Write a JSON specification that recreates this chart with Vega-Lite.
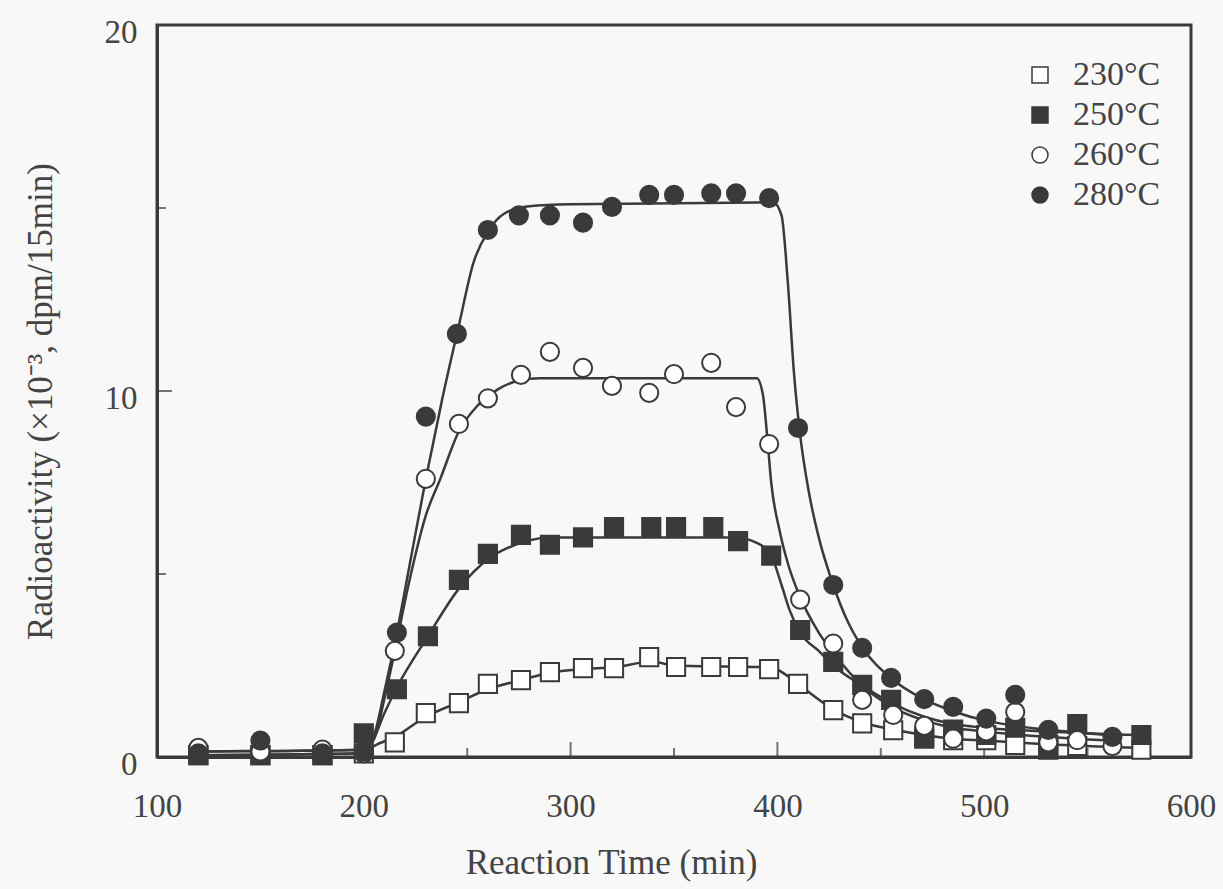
{
  "$schema": "https://vega.github.io/schema/vega-lite/v6.json",
  "width": 1034,
  "height": 732,
  "autosize": {"type": "none"},
  "padding": {"left": 157, "top": 25, "right": 32, "bottom": 132},
  "background": "#f8f8f8",
  "config": {
    "font": "Liberation Serif",
    "view": {"stroke": "#3a3a3a", "strokeWidth": 3},
    "axis": {
      "domainColor": "#3a3a3a", "domainWidth": 3,
      "ticks": false,
      "grid": false,
      "labelFont": "Liberation Serif", "labelFontSize": 33, "labelColor": "#444",
      "titleFont": "Liberation Serif", "titleFontSize": 35, "titleColor": "#444", "titleFontWeight": "normal"
    },
    "legend": {"labelFont": "Liberation Serif", "labelFontSize": 34, "labelColor": "#444"}
  },
  "datasets": {
    "xticks": [
      {"pos": 150, "kind": "minor"}, {"pos": 200, "kind": "major"}, {"pos": 250, "kind": "minor"},
      {"pos": 300, "kind": "major"}, {"pos": 350, "kind": "minor"}, {"pos": 400, "kind": "major"},
      {"pos": 450, "kind": "minor"}, {"pos": 500, "kind": "major"}, {"pos": 550, "kind": "minor"}
    ],
    "yticks": [
      {"pos": 5, "kind": "minor"}, {"pos": 10, "kind": "major"}, {"pos": 15, "kind": "minor"}
    ],
    "points": [
      {"series": "230°C", "time": 120, "value": 0.05},
      {"series": "230°C", "time": 150, "value": 0.05},
      {"series": "230°C", "time": 180, "value": 0.05},
      {"series": "230°C", "time": 200, "value": 0.1},
      {"series": "230°C", "time": 215, "value": 0.4},
      {"series": "230°C", "time": 230, "value": 1.2},
      {"series": "230°C", "time": 246, "value": 1.47},
      {"series": "230°C", "time": 260, "value": 2.0},
      {"series": "230°C", "time": 276, "value": 2.1},
      {"series": "230°C", "time": 290, "value": 2.32},
      {"series": "230°C", "time": 306, "value": 2.43},
      {"series": "230°C", "time": 321, "value": 2.43},
      {"series": "230°C", "time": 338, "value": 2.73},
      {"series": "230°C", "time": 351, "value": 2.46},
      {"series": "230°C", "time": 368, "value": 2.46},
      {"series": "230°C", "time": 381, "value": 2.46},
      {"series": "230°C", "time": 396, "value": 2.4},
      {"series": "230°C", "time": 410, "value": 2.0},
      {"series": "230°C", "time": 427, "value": 1.28},
      {"series": "230°C", "time": 441, "value": 0.92},
      {"series": "230°C", "time": 456, "value": 0.73},
      {"series": "230°C", "time": 471, "value": 0.5},
      {"series": "230°C", "time": 485, "value": 0.46},
      {"series": "230°C", "time": 501, "value": 0.46},
      {"series": "230°C", "time": 515, "value": 0.33},
      {"series": "230°C", "time": 531, "value": 0.33},
      {"series": "230°C", "time": 545, "value": 0.3},
      {"series": "230°C", "time": 576, "value": 0.2},

      {"series": "250°C", "time": 120, "value": 0.05},
      {"series": "250°C", "time": 150, "value": 0.05},
      {"series": "250°C", "time": 180, "value": 0.05},
      {"series": "250°C", "time": 200, "value": 0.65},
      {"series": "250°C", "time": 216, "value": 1.85},
      {"series": "250°C", "time": 231, "value": 3.3},
      {"series": "250°C", "time": 246, "value": 4.84},
      {"series": "250°C", "time": 260, "value": 5.55},
      {"series": "250°C", "time": 276, "value": 6.07},
      {"series": "250°C", "time": 290, "value": 5.8},
      {"series": "250°C", "time": 306, "value": 6.0},
      {"series": "250°C", "time": 321, "value": 6.28},
      {"series": "250°C", "time": 339, "value": 6.28},
      {"series": "250°C", "time": 351, "value": 6.28},
      {"series": "250°C", "time": 369, "value": 6.28},
      {"series": "250°C", "time": 381, "value": 5.9},
      {"series": "250°C", "time": 397, "value": 5.5},
      {"series": "250°C", "time": 411, "value": 3.47},
      {"series": "250°C", "time": 427, "value": 2.6},
      {"series": "250°C", "time": 441, "value": 1.97},
      {"series": "250°C", "time": 455, "value": 1.56},
      {"series": "250°C", "time": 471, "value": 0.55},
      {"series": "250°C", "time": 485, "value": 0.75},
      {"series": "250°C", "time": 501, "value": 0.6},
      {"series": "250°C", "time": 515, "value": 0.8},
      {"series": "250°C", "time": 531, "value": 0.2},
      {"series": "250°C", "time": 545, "value": 0.9},
      {"series": "250°C", "time": 576, "value": 0.6},

      {"series": "260°C", "time": 120, "value": 0.25},
      {"series": "260°C", "time": 150, "value": 0.15},
      {"series": "260°C", "time": 180, "value": 0.2},
      {"series": "260°C", "time": 200, "value": 0.1},
      {"series": "260°C", "time": 215, "value": 2.9},
      {"series": "260°C", "time": 230, "value": 7.6},
      {"series": "260°C", "time": 246, "value": 9.1},
      {"series": "260°C", "time": 260, "value": 9.8},
      {"series": "260°C", "time": 276, "value": 10.44},
      {"series": "260°C", "time": 290, "value": 11.07},
      {"series": "260°C", "time": 306, "value": 10.63},
      {"series": "260°C", "time": 320, "value": 10.14},
      {"series": "260°C", "time": 338, "value": 9.95},
      {"series": "260°C", "time": 350, "value": 10.46},
      {"series": "260°C", "time": 368, "value": 10.77},
      {"series": "260°C", "time": 380, "value": 9.56},
      {"series": "260°C", "time": 396, "value": 8.55},
      {"series": "260°C", "time": 411, "value": 4.3},
      {"series": "260°C", "time": 427, "value": 3.1},
      {"series": "260°C", "time": 441, "value": 1.56},
      {"series": "260°C", "time": 456, "value": 1.15},
      {"series": "260°C", "time": 471, "value": 0.85},
      {"series": "260°C", "time": 485, "value": 0.5},
      {"series": "260°C", "time": 501, "value": 0.7},
      {"series": "260°C", "time": 515, "value": 1.23},
      {"series": "260°C", "time": 531, "value": 0.4},
      {"series": "260°C", "time": 545, "value": 0.46},
      {"series": "260°C", "time": 562, "value": 0.3},

      {"series": "280°C", "time": 120, "value": 0.1},
      {"series": "280°C", "time": 150, "value": 0.45},
      {"series": "280°C", "time": 180, "value": 0.1},
      {"series": "280°C", "time": 200, "value": 0.15},
      {"series": "280°C", "time": 216, "value": 3.4},
      {"series": "280°C", "time": 230, "value": 9.3},
      {"series": "280°C", "time": 245, "value": 11.56},
      {"series": "280°C", "time": 260, "value": 14.4},
      {"series": "280°C", "time": 275, "value": 14.8},
      {"series": "280°C", "time": 290, "value": 14.8},
      {"series": "280°C", "time": 306, "value": 14.6},
      {"series": "280°C", "time": 320, "value": 15.03},
      {"series": "280°C", "time": 338, "value": 15.36},
      {"series": "280°C", "time": 350, "value": 15.36},
      {"series": "280°C", "time": 368, "value": 15.4},
      {"series": "280°C", "time": 380, "value": 15.4},
      {"series": "280°C", "time": 396, "value": 15.27},
      {"series": "280°C", "time": 410, "value": 8.99},
      {"series": "280°C", "time": 427, "value": 4.7},
      {"series": "280°C", "time": 441, "value": 2.98},
      {"series": "280°C", "time": 455, "value": 2.16},
      {"series": "280°C", "time": 471, "value": 1.58},
      {"series": "280°C", "time": 485, "value": 1.37},
      {"series": "280°C", "time": 501, "value": 1.05},
      {"series": "280°C", "time": 515, "value": 1.7},
      {"series": "280°C", "time": 531, "value": 0.74},
      {"series": "280°C", "time": 562, "value": 0.55}
    ],
    "curves": [
      {"series": "230°C", "time": 120, "value": 0.05},
      {"series": "230°C", "time": 200, "value": 0.1},
      {"series": "230°C", "time": 205, "value": 0.3},
      {"series": "230°C", "time": 215, "value": 0.55},
      {"series": "230°C", "time": 230, "value": 1.1},
      {"series": "230°C", "time": 246, "value": 1.5},
      {"series": "230°C", "time": 260, "value": 1.85},
      {"series": "230°C", "time": 276, "value": 2.1},
      {"series": "230°C", "time": 290, "value": 2.3},
      {"series": "230°C", "time": 306, "value": 2.4},
      {"series": "230°C", "time": 321, "value": 2.45},
      {"series": "230°C", "time": 339, "value": 2.6},
      {"series": "230°C", "time": 351, "value": 2.5},
      {"series": "230°C", "time": 397, "value": 2.45},
      {"series": "230°C", "time": 404, "value": 2.25},
      {"series": "230°C", "time": 411, "value": 1.95},
      {"series": "230°C", "time": 427, "value": 1.3},
      {"series": "230°C", "time": 441, "value": 0.95},
      {"series": "230°C", "time": 456, "value": 0.75},
      {"series": "230°C", "time": 471, "value": 0.6},
      {"series": "230°C", "time": 485, "value": 0.5},
      {"series": "230°C", "time": 500, "value": 0.45},
      {"series": "230°C", "time": 530, "value": 0.35},
      {"series": "230°C", "time": 576, "value": 0.25},

      {"series": "250°C", "time": 120, "value": 0.05},
      {"series": "250°C", "time": 200, "value": 0.1},
      {"series": "250°C", "time": 204, "value": 0.4},
      {"series": "250°C", "time": 210, "value": 1.2},
      {"series": "250°C", "time": 216, "value": 1.9},
      {"series": "250°C", "time": 231, "value": 3.3},
      {"series": "250°C", "time": 246, "value": 4.6},
      {"series": "250°C", "time": 260, "value": 5.4},
      {"series": "250°C", "time": 276, "value": 5.85},
      {"series": "250°C", "time": 290, "value": 6.0},
      {"series": "250°C", "time": 380, "value": 6.0},
      {"series": "250°C", "time": 390, "value": 5.85},
      {"series": "250°C", "time": 397, "value": 5.5},
      {"series": "250°C", "time": 402, "value": 4.7},
      {"series": "250°C", "time": 406, "value": 4.0},
      {"series": "250°C", "time": 411, "value": 3.4},
      {"series": "250°C", "time": 420, "value": 2.9},
      {"series": "250°C", "time": 427, "value": 2.5},
      {"series": "250°C", "time": 441, "value": 1.95},
      {"series": "250°C", "time": 456, "value": 1.45},
      {"series": "250°C", "time": 471, "value": 1.1},
      {"series": "250°C", "time": 485, "value": 0.9},
      {"series": "250°C", "time": 500, "value": 0.8},
      {"series": "250°C", "time": 530, "value": 0.7},
      {"series": "250°C", "time": 576, "value": 0.6},

      {"series": "260°C", "time": 120, "value": 0.15},
      {"series": "260°C", "time": 200, "value": 0.2},
      {"series": "260°C", "time": 205, "value": 0.5},
      {"series": "260°C", "time": 210, "value": 1.6},
      {"series": "260°C", "time": 215, "value": 2.9},
      {"series": "260°C", "time": 222, "value": 4.8},
      {"series": "260°C", "time": 230, "value": 6.6},
      {"series": "260°C", "time": 237, "value": 7.6},
      {"series": "260°C", "time": 246, "value": 8.9},
      {"series": "260°C", "time": 255, "value": 9.6},
      {"series": "260°C", "time": 265, "value": 10.05},
      {"series": "260°C", "time": 276, "value": 10.3},
      {"series": "260°C", "time": 285, "value": 10.35},
      {"series": "260°C", "time": 390, "value": 10.35},
      {"series": "260°C", "time": 393, "value": 9.9},
      {"series": "260°C", "time": 395, "value": 8.8},
      {"series": "260°C", "time": 397, "value": 7.5},
      {"series": "260°C", "time": 401, "value": 6.2},
      {"series": "260°C", "time": 405, "value": 5.3},
      {"series": "260°C", "time": 410, "value": 4.5},
      {"series": "260°C", "time": 420, "value": 3.4},
      {"series": "260°C", "time": 427, "value": 2.85},
      {"series": "260°C", "time": 441, "value": 1.95},
      {"series": "260°C", "time": 456, "value": 1.35},
      {"series": "260°C", "time": 471, "value": 1.0},
      {"series": "260°C", "time": 485, "value": 0.8},
      {"series": "260°C", "time": 500, "value": 0.7},
      {"series": "260°C", "time": 530, "value": 0.55},
      {"series": "260°C", "time": 560, "value": 0.45},

      {"series": "280°C", "time": 120, "value": 0.15},
      {"series": "280°C", "time": 200, "value": 0.2},
      {"series": "280°C", "time": 205, "value": 0.6},
      {"series": "280°C", "time": 210, "value": 1.8},
      {"series": "280°C", "time": 216, "value": 3.4},
      {"series": "280°C", "time": 222, "value": 5.2},
      {"series": "280°C", "time": 230, "value": 7.6},
      {"series": "280°C", "time": 238, "value": 9.8},
      {"series": "280°C", "time": 246, "value": 11.8},
      {"series": "280°C", "time": 253, "value": 13.5},
      {"series": "280°C", "time": 260, "value": 14.35},
      {"series": "280°C", "time": 268, "value": 14.85},
      {"series": "280°C", "time": 280, "value": 15.05},
      {"series": "280°C", "time": 300, "value": 15.1},
      {"series": "280°C", "time": 398, "value": 15.15},
      {"series": "280°C", "time": 402, "value": 14.8},
      {"series": "280°C", "time": 405, "value": 13.0},
      {"series": "280°C", "time": 408, "value": 10.5},
      {"series": "280°C", "time": 411, "value": 8.8},
      {"series": "280°C", "time": 415, "value": 7.3},
      {"series": "280°C", "time": 420, "value": 6.0},
      {"series": "280°C", "time": 427, "value": 4.7},
      {"series": "280°C", "time": 434, "value": 3.7},
      {"series": "280°C", "time": 441, "value": 3.0},
      {"series": "280°C", "time": 455, "value": 2.15},
      {"series": "280°C", "time": 470, "value": 1.6},
      {"series": "280°C", "time": 485, "value": 1.25},
      {"series": "280°C", "time": 500, "value": 1.0},
      {"series": "280°C", "time": 515, "value": 0.85},
      {"series": "280°C", "time": 530, "value": 0.75},
      {"series": "280°C", "time": 560, "value": 0.6}
    ]
  },
  "layer": [
    {
      "data": {"name": "curves"},
      "mark": {"type": "line", "interpolate": "monotone", "color": "#3a3a3a", "strokeWidth": 2.5},
      "encoding": {
        "x": {"field": "time", "type": "quantitative",
          "scale": {"domain": [100, 600], "nice": false, "zero": false},
          "axis": {"values": [100, 200, 300, 400, 500, 600],
            "labelPadding": 33, "labelFlush": false,
            "title": "Reaction Time (min)", "titleX": 454, "titleY": 116, "titleBaseline": "alphabetic"}},
        "y": {"field": "value", "type": "quantitative",
          "scale": {"domain": [0, 20], "nice": false},
          "axis": {"values": [0, 10, 20],
            "labelPadding": 20, "labelOffset": 7, "labelFlush": false,
            "title": "Radioactivity (×10⁻³, dpm/15min)", "titleX": -117, "titleY": 376, "titleBaseline": "middle", "titleAngle": -90}},
        "detail": {"field": "series"}
      }
    },
    {
      "data": {"name": "xticks"},
      "mark": {"type": "tick", "orient": "vertical", "clip": true, "color": "#3a3a3a", "thickness": 2},
      "encoding": {
        "x": {"field": "pos", "type": "quantitative"},
        "y": {"datum": 0, "type": "quantitative"},
        "size": {"field": "kind", "type": "nominal", "scale": {"domain": ["major", "minor"], "range": [30, 18]}, "legend": null}
      }
    },
    {
      "data": {"name": "yticks"},
      "mark": {"type": "tick", "orient": "horizontal", "clip": true, "color": "#3a3a3a", "thickness": 2},
      "encoding": {
        "y": {"field": "pos", "type": "quantitative"},
        "x": {"datum": 100, "type": "quantitative"},
        "size": {"field": "kind", "type": "nominal", "scale": {"domain": ["major", "minor"], "range": [30, 18]}, "legend": null}
      }
    },
    {
      "data": {"name": "points"},
      "mark": {"type": "point", "filled": false, "stroke": "#3a3a3a", "strokeWidth": 2, "opacity": 1, "size": 330},
      "encoding": {
        "x": {"field": "time", "type": "quantitative"},
        "y": {"field": "value", "type": "quantitative"},
        "shape": {"field": "series", "type": "nominal",
          "scale": {"domain": ["230°C", "250°C", "260°C", "280°C"], "range": ["square", "square", "circle", "circle"]},
          "legend": {"title": null, "orient": "none", "legendX": 866, "legendY": 33, "padding": 0,
            "symbolSize": 256, "labelOffset": 16, "rowPadding": 6,
            "encode": {"symbols": {"update": {"stroke": {"value": "#3a3a3a"}, "strokeWidth": {"value": 2}}}}}},
        "fill": {"field": "series", "type": "nominal",
          "scale": {"domain": ["230°C", "250°C", "260°C", "280°C"], "range": ["#ffffff", "#3a3a3a", "#ffffff", "#3a3a3a"]},
          "legend": {"title": null, "orient": "none", "legendX": 866, "legendY": 33, "padding": 0,
            "symbolSize": 256, "labelOffset": 16, "rowPadding": 6,
            "encode": {"symbols": {"update": {"stroke": {"value": "#3a3a3a"}, "strokeWidth": {"value": 2}}}}}}
      }
    }
  ]
}
